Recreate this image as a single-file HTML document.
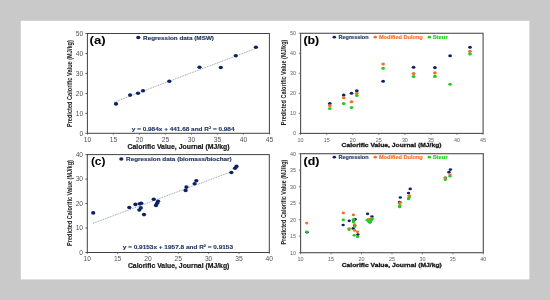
<!DOCTYPE html><html><head><meta charset="utf-8"><style>html,body{margin:0;padding:0;background:#c9c9c9;width:550px;height:300px;overflow:hidden}svg{display:block;will-change:transform}</style></head><body>
<svg width="550" height="300" viewBox="0 0 550 300" font-family='"Liberation Sans", sans-serif'>
<rect x="0" y="0" width="550" height="300" fill="#c9c9c9"/>
<defs><filter id="bl" x="-5%" y="-5%" width="110%" height="110%"><feGaussianBlur stdDeviation="0.35"/></filter></defs><g filter="url(#bl)">
<rect x="20.8" y="20.8" width="508.6" height="258.6" fill="#ffffff"/>
<rect x="87.40" y="33.50" width="182.00" height="99.80" fill="none" stroke="#404040" stroke-width="1"/>
<line x1="85.40" y1="133.30" x2="87.40" y2="133.30" stroke="#404040" stroke-width="0.8"/>
<text x="83.20" y="135.71" font-size="6.7" fill="#555555" font-weight="normal" text-anchor="end" >0</text>
<line x1="85.40" y1="113.34" x2="87.40" y2="113.34" stroke="#404040" stroke-width="0.8"/>
<text x="83.20" y="115.75" font-size="6.7" fill="#555555" font-weight="normal" text-anchor="end" >10</text>
<line x1="85.40" y1="93.38" x2="87.40" y2="93.38" stroke="#404040" stroke-width="0.8"/>
<text x="83.20" y="95.79" font-size="6.7" fill="#555555" font-weight="normal" text-anchor="end" >20</text>
<line x1="85.40" y1="73.42" x2="87.40" y2="73.42" stroke="#404040" stroke-width="0.8"/>
<text x="83.20" y="75.83" font-size="6.7" fill="#555555" font-weight="normal" text-anchor="end" >30</text>
<line x1="85.40" y1="53.46" x2="87.40" y2="53.46" stroke="#404040" stroke-width="0.8"/>
<text x="83.20" y="55.87" font-size="6.7" fill="#555555" font-weight="normal" text-anchor="end" >40</text>
<line x1="85.40" y1="33.50" x2="87.40" y2="33.50" stroke="#404040" stroke-width="0.8"/>
<text x="83.20" y="35.91" font-size="6.7" fill="#555555" font-weight="normal" text-anchor="end" >50</text>
<line x1="87.40" y1="133.30" x2="87.40" y2="134.60" stroke="#404040" stroke-width="0.8"/>
<text x="87.40" y="142.11" font-size="6.7" fill="#555555" font-weight="normal" text-anchor="middle" >10</text>
<line x1="113.40" y1="133.30" x2="113.40" y2="134.60" stroke="#404040" stroke-width="0.8"/>
<text x="113.40" y="142.11" font-size="6.7" fill="#555555" font-weight="normal" text-anchor="middle" >15</text>
<line x1="139.40" y1="133.30" x2="139.40" y2="134.60" stroke="#404040" stroke-width="0.8"/>
<text x="139.40" y="142.11" font-size="6.7" fill="#555555" font-weight="normal" text-anchor="middle" >20</text>
<line x1="165.40" y1="133.30" x2="165.40" y2="134.60" stroke="#404040" stroke-width="0.8"/>
<text x="165.40" y="142.11" font-size="6.7" fill="#555555" font-weight="normal" text-anchor="middle" >25</text>
<line x1="191.40" y1="133.30" x2="191.40" y2="134.60" stroke="#404040" stroke-width="0.8"/>
<text x="191.40" y="142.11" font-size="6.7" fill="#555555" font-weight="normal" text-anchor="middle" >30</text>
<line x1="217.40" y1="133.30" x2="217.40" y2="134.60" stroke="#404040" stroke-width="0.8"/>
<text x="217.40" y="142.11" font-size="6.7" fill="#555555" font-weight="normal" text-anchor="middle" >35</text>
<line x1="243.40" y1="133.30" x2="243.40" y2="134.60" stroke="#404040" stroke-width="0.8"/>
<text x="243.40" y="142.11" font-size="6.7" fill="#555555" font-weight="normal" text-anchor="middle" >40</text>
<line x1="269.40" y1="133.30" x2="269.40" y2="134.60" stroke="#404040" stroke-width="0.8"/>
<text x="269.40" y="142.11" font-size="6.7" fill="#555555" font-weight="normal" text-anchor="middle" >45</text>
<text x="89.60" y="44.20" font-size="11" fill="#000" font-weight="bold" text-anchor="start" textLength="16.1" lengthAdjust="spacingAndGlyphs" >(a)</text>
<ellipse cx="138.30" cy="37.60" rx="2.1" ry="1.75" fill="#0c2466"/>
<text x="143.10" y="39.66" font-size="6.0" fill="#1f3564" font-weight="bold" text-anchor="start" textLength="70.9" lengthAdjust="spacingAndGlyphs" stroke="#1f3564" stroke-width="0.15">Regression data (MSW)</text>
<text x="131.80" y="130.89" font-size="5.8" fill="#1f3564" font-weight="bold" text-anchor="start" textLength="102.69999999999999" lengthAdjust="spacingAndGlyphs" stroke="#1f3564" stroke-width="0.12">y = 0.984x + 441.68 and R² = 0.984</text>
<line x1="114.3" y1="102.0" x2="254.4" y2="49.0" stroke="#6a7590" stroke-width="0.7" stroke-dasharray="1 0.8"/>
<ellipse cx="116.00" cy="103.90" rx="2.15" ry="1.8" fill="#0c2466"/>
<ellipse cx="130.10" cy="95.10" rx="2.15" ry="1.8" fill="#0c2466"/>
<ellipse cx="138.00" cy="93.20" rx="2.15" ry="1.8" fill="#0c2466"/>
<ellipse cx="143.00" cy="90.80" rx="2.15" ry="1.8" fill="#0c2466"/>
<ellipse cx="169.30" cy="81.30" rx="2.15" ry="1.8" fill="#0c2466"/>
<ellipse cx="199.50" cy="67.20" rx="2.15" ry="1.8" fill="#0c2466"/>
<ellipse cx="220.80" cy="67.50" rx="2.15" ry="1.8" fill="#0c2466"/>
<ellipse cx="235.80" cy="55.80" rx="2.15" ry="1.8" fill="#0c2466"/>
<ellipse cx="255.90" cy="47.20" rx="2.15" ry="1.8" fill="#0c2466"/>
<text transform="translate(69.70,83.60) rotate(-90)" x="0" y="2.63" font-size="7.3" fill="#1a1a1a" font-weight="bold" text-anchor="middle" textLength="87" lengthAdjust="spacingAndGlyphs" >Predicted Calorific Value (MJ/kg)</text>
<text x="178.50" y="148.68" font-size="6.6" fill="#1a1a1a" font-weight="bold" text-anchor="middle" textLength="102" lengthAdjust="spacingAndGlyphs" stroke="#1a1a1a" stroke-width="0.2">Calorific Value, Journal (MJ/kg)</text>
<rect x="300.60" y="33.30" width="182.50" height="100.10" fill="none" stroke="#555555" stroke-width="1.15"/>
<line x1="298.80" y1="133.40" x2="300.60" y2="133.40" stroke="#555555" stroke-width="0.7"/>
<text x="296.10" y="135.34" font-size="5.4" fill="#5e5e5e" font-weight="normal" text-anchor="end" >0</text>
<line x1="298.80" y1="113.38" x2="300.60" y2="113.38" stroke="#555555" stroke-width="0.7"/>
<text x="296.10" y="115.32" font-size="5.4" fill="#5e5e5e" font-weight="normal" text-anchor="end" >10</text>
<line x1="298.80" y1="93.36" x2="300.60" y2="93.36" stroke="#555555" stroke-width="0.7"/>
<text x="296.10" y="95.30" font-size="5.4" fill="#5e5e5e" font-weight="normal" text-anchor="end" >20</text>
<line x1="298.80" y1="73.34" x2="300.60" y2="73.34" stroke="#555555" stroke-width="0.7"/>
<text x="296.10" y="75.28" font-size="5.4" fill="#5e5e5e" font-weight="normal" text-anchor="end" >30</text>
<line x1="298.80" y1="53.32" x2="300.60" y2="53.32" stroke="#555555" stroke-width="0.7"/>
<text x="296.10" y="55.26" font-size="5.4" fill="#5e5e5e" font-weight="normal" text-anchor="end" >40</text>
<line x1="298.80" y1="33.30" x2="300.60" y2="33.30" stroke="#555555" stroke-width="0.7"/>
<text x="296.10" y="35.24" font-size="5.4" fill="#5e5e5e" font-weight="normal" text-anchor="end" >50</text>
<line x1="300.60" y1="133.40" x2="300.60" y2="135.00" stroke="#555555" stroke-width="0.7"/>
<text x="300.60" y="141.74" font-size="5.4" fill="#5e5e5e" font-weight="normal" text-anchor="middle" >10</text>
<line x1="326.67" y1="133.40" x2="326.67" y2="135.00" stroke="#555555" stroke-width="0.7"/>
<text x="326.67" y="141.74" font-size="5.4" fill="#5e5e5e" font-weight="normal" text-anchor="middle" >15</text>
<line x1="352.74" y1="133.40" x2="352.74" y2="135.00" stroke="#555555" stroke-width="0.7"/>
<text x="352.74" y="141.74" font-size="5.4" fill="#5e5e5e" font-weight="normal" text-anchor="middle" >20</text>
<line x1="378.81" y1="133.40" x2="378.81" y2="135.00" stroke="#555555" stroke-width="0.7"/>
<text x="378.81" y="141.74" font-size="5.4" fill="#5e5e5e" font-weight="normal" text-anchor="middle" >25</text>
<line x1="404.89" y1="133.40" x2="404.89" y2="135.00" stroke="#555555" stroke-width="0.7"/>
<text x="404.89" y="141.74" font-size="5.4" fill="#5e5e5e" font-weight="normal" text-anchor="middle" >30</text>
<line x1="430.96" y1="133.40" x2="430.96" y2="135.00" stroke="#555555" stroke-width="0.7"/>
<text x="430.96" y="141.74" font-size="5.4" fill="#5e5e5e" font-weight="normal" text-anchor="middle" >35</text>
<line x1="457.03" y1="133.40" x2="457.03" y2="135.00" stroke="#555555" stroke-width="0.7"/>
<text x="457.03" y="141.74" font-size="5.4" fill="#5e5e5e" font-weight="normal" text-anchor="middle" >40</text>
<line x1="483.10" y1="133.40" x2="483.10" y2="135.00" stroke="#555555" stroke-width="0.7"/>
<text x="483.10" y="141.74" font-size="5.4" fill="#5e5e5e" font-weight="normal" text-anchor="middle" >45</text>
<text x="303.40" y="43.80" font-size="11.6" fill="#000" font-weight="bold" text-anchor="start" textLength="15.8" lengthAdjust="spacingAndGlyphs" stroke="#000" stroke-width="0.1">(b)</text>
<ellipse cx="334.30" cy="37.20" rx="1.75" ry="1.4" fill="#0c2466"/>
<text x="338.50" y="39.32" font-size="5.6" fill="#1f3a6e" font-weight="bold" text-anchor="start" textLength="30.100000000000023" lengthAdjust="spacingAndGlyphs" stroke="#1f3a6e" stroke-width="0.15">Regression</text>
<ellipse cx="375.20" cy="37.20" rx="1.75" ry="1.4" fill="#f2702a"/>
<text x="378.90" y="39.32" font-size="5.6" fill="#f2702a" font-weight="bold" text-anchor="start" textLength="43.900000000000034" lengthAdjust="spacingAndGlyphs" stroke="#f2702a" stroke-width="0.15">Modified Dulong</text>
<ellipse cx="429.30" cy="37.20" rx="1.75" ry="1.4" fill="#22cc22"/>
<text x="432.70" y="39.32" font-size="5.6" fill="#22cc22" font-weight="bold" text-anchor="start" textLength="15.0" lengthAdjust="spacingAndGlyphs" stroke="#22cc22" stroke-width="0.15">Steur</text>
<ellipse cx="329.80" cy="103.60" rx="1.85" ry="1.55" fill="#0c2466"/>
<ellipse cx="343.70" cy="95.00" rx="1.85" ry="1.55" fill="#0c2466"/>
<ellipse cx="351.50" cy="93.20" rx="1.85" ry="1.55" fill="#0c2466"/>
<ellipse cx="356.80" cy="90.80" rx="1.85" ry="1.55" fill="#0c2466"/>
<ellipse cx="383.10" cy="81.30" rx="1.85" ry="1.55" fill="#0c2466"/>
<ellipse cx="413.60" cy="67.30" rx="1.85" ry="1.55" fill="#0c2466"/>
<ellipse cx="434.90" cy="67.60" rx="1.85" ry="1.55" fill="#0c2466"/>
<ellipse cx="450.10" cy="55.80" rx="1.85" ry="1.55" fill="#0c2466"/>
<ellipse cx="470.00" cy="47.30" rx="1.85" ry="1.55" fill="#0c2466"/>
<ellipse cx="329.80" cy="105.50" rx="1.85" ry="1.55" fill="#f2702a"/>
<ellipse cx="343.70" cy="97.70" rx="1.85" ry="1.55" fill="#f2702a"/>
<ellipse cx="351.50" cy="101.80" rx="1.85" ry="1.55" fill="#f2702a"/>
<ellipse cx="356.80" cy="93.20" rx="1.85" ry="1.55" fill="#f2702a"/>
<ellipse cx="383.10" cy="64.00" rx="1.85" ry="1.55" fill="#f2702a"/>
<ellipse cx="413.60" cy="73.60" rx="1.85" ry="1.55" fill="#f2702a"/>
<ellipse cx="434.90" cy="72.90" rx="1.85" ry="1.55" fill="#f2702a"/>
<ellipse cx="470.00" cy="51.30" rx="1.85" ry="1.55" fill="#f2702a"/>
<ellipse cx="329.80" cy="108.50" rx="1.85" ry="1.55" fill="#22cc22"/>
<ellipse cx="343.70" cy="103.60" rx="1.85" ry="1.55" fill="#22cc22"/>
<ellipse cx="351.50" cy="107.50" rx="1.85" ry="1.55" fill="#22cc22"/>
<ellipse cx="356.80" cy="95.50" rx="1.85" ry="1.55" fill="#22cc22"/>
<ellipse cx="383.10" cy="68.20" rx="1.85" ry="1.55" fill="#22cc22"/>
<ellipse cx="413.60" cy="76.50" rx="1.85" ry="1.55" fill="#22cc22"/>
<ellipse cx="434.90" cy="76.40" rx="1.85" ry="1.55" fill="#22cc22"/>
<ellipse cx="450.10" cy="84.20" rx="1.85" ry="1.55" fill="#22cc22"/>
<ellipse cx="470.00" cy="53.90" rx="1.85" ry="1.55" fill="#22cc22"/>
<text transform="translate(283.80,82.40) rotate(-90)" x="0" y="2.59" font-size="7.2" fill="#1a1a1a" font-weight="bold" text-anchor="middle" textLength="85.6" lengthAdjust="spacingAndGlyphs" >Predicted Calorific Value (MJ/kg)</text>
<text x="391.60" y="147.26" font-size="6.0" fill="#1a1a1a" font-weight="bold" text-anchor="middle" textLength="100" lengthAdjust="spacingAndGlyphs" stroke="#1a1a1a" stroke-width="0.3">Calorific Value, Journal (MJ/kg)</text>
<rect x="87.30" y="154.60" width="182.00" height="97.90" fill="none" stroke="#404040" stroke-width="1"/>
<line x1="85.30" y1="252.50" x2="87.30" y2="252.50" stroke="#404040" stroke-width="0.8"/>
<text x="83.10" y="254.91" font-size="6.7" fill="#555555" font-weight="normal" text-anchor="end" >0</text>
<line x1="85.30" y1="228.03" x2="87.30" y2="228.03" stroke="#404040" stroke-width="0.8"/>
<text x="83.10" y="230.44" font-size="6.7" fill="#555555" font-weight="normal" text-anchor="end" >10</text>
<line x1="85.30" y1="203.55" x2="87.30" y2="203.55" stroke="#404040" stroke-width="0.8"/>
<text x="83.10" y="205.96" font-size="6.7" fill="#555555" font-weight="normal" text-anchor="end" >20</text>
<line x1="85.30" y1="179.07" x2="87.30" y2="179.07" stroke="#404040" stroke-width="0.8"/>
<text x="83.10" y="181.49" font-size="6.7" fill="#555555" font-weight="normal" text-anchor="end" >30</text>
<line x1="85.30" y1="154.60" x2="87.30" y2="154.60" stroke="#404040" stroke-width="0.8"/>
<text x="83.10" y="157.01" font-size="6.7" fill="#555555" font-weight="normal" text-anchor="end" >40</text>
<line x1="87.30" y1="252.50" x2="87.30" y2="253.80" stroke="#404040" stroke-width="0.8"/>
<text x="87.30" y="261.31" font-size="6.7" fill="#555555" font-weight="normal" text-anchor="middle" >10</text>
<line x1="117.63" y1="252.50" x2="117.63" y2="253.80" stroke="#404040" stroke-width="0.8"/>
<text x="117.63" y="261.31" font-size="6.7" fill="#555555" font-weight="normal" text-anchor="middle" >15</text>
<line x1="147.97" y1="252.50" x2="147.97" y2="253.80" stroke="#404040" stroke-width="0.8"/>
<text x="147.97" y="261.31" font-size="6.7" fill="#555555" font-weight="normal" text-anchor="middle" >20</text>
<line x1="178.30" y1="252.50" x2="178.30" y2="253.80" stroke="#404040" stroke-width="0.8"/>
<text x="178.30" y="261.31" font-size="6.7" fill="#555555" font-weight="normal" text-anchor="middle" >25</text>
<line x1="208.63" y1="252.50" x2="208.63" y2="253.80" stroke="#404040" stroke-width="0.8"/>
<text x="208.63" y="261.31" font-size="6.7" fill="#555555" font-weight="normal" text-anchor="middle" >30</text>
<line x1="238.97" y1="252.50" x2="238.97" y2="253.80" stroke="#404040" stroke-width="0.8"/>
<text x="238.97" y="261.31" font-size="6.7" fill="#555555" font-weight="normal" text-anchor="middle" >35</text>
<line x1="269.30" y1="252.50" x2="269.30" y2="253.80" stroke="#404040" stroke-width="0.8"/>
<text x="269.30" y="261.31" font-size="6.7" fill="#555555" font-weight="normal" text-anchor="middle" >40</text>
<text x="90.90" y="165.00" font-size="11" fill="#000" font-weight="bold" text-anchor="start" textLength="14.6" lengthAdjust="spacingAndGlyphs" >(c)</text>
<ellipse cx="121.30" cy="159.00" rx="2.1" ry="1.75" fill="#0c2466"/>
<text x="126.10" y="161.06" font-size="6.0" fill="#1f3564" font-weight="bold" text-anchor="start" textLength="105.6" lengthAdjust="spacingAndGlyphs" stroke="#1f3564" stroke-width="0.15">Regression data (biomass/biochar)</text>
<text x="122.80" y="249.49" font-size="5.8" fill="#1f3564" font-weight="bold" text-anchor="start" textLength="110.2" lengthAdjust="spacingAndGlyphs" stroke="#1f3564" stroke-width="0.12">y = 0.9153x + 1957.8 and R² = 0.9153</text>
<line x1="93.0" y1="223.3" x2="231.4" y2="171.7" stroke="#6a7590" stroke-width="0.7" stroke-dasharray="1 0.8"/>
<ellipse cx="93.20" cy="212.90" rx="2.15" ry="1.8" fill="#0c2466"/>
<ellipse cx="129.30" cy="207.50" rx="2.15" ry="1.8" fill="#0c2466"/>
<ellipse cx="135.40" cy="204.40" rx="2.15" ry="1.8" fill="#0c2466"/>
<ellipse cx="139.60" cy="203.75" rx="2.15" ry="1.8" fill="#0c2466"/>
<ellipse cx="141.25" cy="203.30" rx="2.15" ry="1.8" fill="#0c2466"/>
<ellipse cx="140.80" cy="207.90" rx="2.15" ry="1.8" fill="#0c2466"/>
<ellipse cx="139.30" cy="210.00" rx="2.15" ry="1.8" fill="#0c2466"/>
<ellipse cx="144.00" cy="214.60" rx="2.15" ry="1.8" fill="#0c2466"/>
<ellipse cx="153.75" cy="199.20" rx="2.15" ry="1.8" fill="#0c2466"/>
<ellipse cx="158.10" cy="201.25" rx="2.15" ry="1.8" fill="#0c2466"/>
<ellipse cx="157.10" cy="203.30" rx="2.15" ry="1.8" fill="#0c2466"/>
<ellipse cx="156.00" cy="205.40" rx="2.15" ry="1.8" fill="#0c2466"/>
<ellipse cx="186.40" cy="187.10" rx="2.15" ry="1.8" fill="#0c2466"/>
<ellipse cx="185.60" cy="190.40" rx="2.15" ry="1.8" fill="#0c2466"/>
<ellipse cx="196.30" cy="180.70" rx="2.15" ry="1.8" fill="#0c2466"/>
<ellipse cx="194.60" cy="183.70" rx="2.15" ry="1.8" fill="#0c2466"/>
<ellipse cx="231.40" cy="172.50" rx="2.15" ry="1.8" fill="#0c2466"/>
<ellipse cx="235.00" cy="168.30" rx="2.15" ry="1.8" fill="#0c2466"/>
<ellipse cx="236.50" cy="166.40" rx="2.15" ry="1.8" fill="#0c2466"/>
<text transform="translate(69.40,203.00) rotate(-90)" x="0" y="2.63" font-size="7.3" fill="#1a1a1a" font-weight="bold" text-anchor="middle" textLength="85.8" lengthAdjust="spacingAndGlyphs" >Predicted Calorific Value (MJ/kg)</text>
<text x="178.65" y="267.68" font-size="6.6" fill="#1a1a1a" font-weight="bold" text-anchor="middle" textLength="101.5" lengthAdjust="spacingAndGlyphs" stroke="#1a1a1a" stroke-width="0.2">Calorific Value, Journal (MJ/kg)</text>
<rect x="300.60" y="153.70" width="182.70" height="99.00" fill="none" stroke="#555555" stroke-width="1.15"/>
<line x1="298.80" y1="252.70" x2="300.60" y2="252.70" stroke="#555555" stroke-width="0.7"/>
<text x="296.10" y="254.64" font-size="5.4" fill="#5e5e5e" font-weight="normal" text-anchor="end" >10</text>
<line x1="298.80" y1="236.20" x2="300.60" y2="236.20" stroke="#555555" stroke-width="0.7"/>
<text x="296.10" y="238.14" font-size="5.4" fill="#5e5e5e" font-weight="normal" text-anchor="end" >15</text>
<line x1="298.80" y1="219.70" x2="300.60" y2="219.70" stroke="#555555" stroke-width="0.7"/>
<text x="296.10" y="221.64" font-size="5.4" fill="#5e5e5e" font-weight="normal" text-anchor="end" >20</text>
<line x1="298.80" y1="203.20" x2="300.60" y2="203.20" stroke="#555555" stroke-width="0.7"/>
<text x="296.10" y="205.14" font-size="5.4" fill="#5e5e5e" font-weight="normal" text-anchor="end" >25</text>
<line x1="298.80" y1="186.70" x2="300.60" y2="186.70" stroke="#555555" stroke-width="0.7"/>
<text x="296.10" y="188.64" font-size="5.4" fill="#5e5e5e" font-weight="normal" text-anchor="end" >30</text>
<line x1="298.80" y1="170.20" x2="300.60" y2="170.20" stroke="#555555" stroke-width="0.7"/>
<text x="296.10" y="172.14" font-size="5.4" fill="#5e5e5e" font-weight="normal" text-anchor="end" >35</text>
<line x1="298.80" y1="153.70" x2="300.60" y2="153.70" stroke="#555555" stroke-width="0.7"/>
<text x="296.10" y="155.64" font-size="5.4" fill="#5e5e5e" font-weight="normal" text-anchor="end" >40</text>
<line x1="300.60" y1="252.70" x2="300.60" y2="254.30" stroke="#555555" stroke-width="0.7"/>
<text x="300.60" y="261.04" font-size="5.4" fill="#5e5e5e" font-weight="normal" text-anchor="middle" >10</text>
<line x1="331.05" y1="252.70" x2="331.05" y2="254.30" stroke="#555555" stroke-width="0.7"/>
<text x="331.05" y="261.04" font-size="5.4" fill="#5e5e5e" font-weight="normal" text-anchor="middle" >15</text>
<line x1="361.50" y1="252.70" x2="361.50" y2="254.30" stroke="#555555" stroke-width="0.7"/>
<text x="361.50" y="261.04" font-size="5.4" fill="#5e5e5e" font-weight="normal" text-anchor="middle" >20</text>
<line x1="391.95" y1="252.70" x2="391.95" y2="254.30" stroke="#555555" stroke-width="0.7"/>
<text x="391.95" y="261.04" font-size="5.4" fill="#5e5e5e" font-weight="normal" text-anchor="middle" >25</text>
<line x1="422.40" y1="252.70" x2="422.40" y2="254.30" stroke="#555555" stroke-width="0.7"/>
<text x="422.40" y="261.04" font-size="5.4" fill="#5e5e5e" font-weight="normal" text-anchor="middle" >30</text>
<line x1="452.85" y1="252.70" x2="452.85" y2="254.30" stroke="#555555" stroke-width="0.7"/>
<text x="452.85" y="261.04" font-size="5.4" fill="#5e5e5e" font-weight="normal" text-anchor="middle" >35</text>
<line x1="483.30" y1="252.70" x2="483.30" y2="254.30" stroke="#555555" stroke-width="0.7"/>
<text x="483.30" y="261.04" font-size="5.4" fill="#5e5e5e" font-weight="normal" text-anchor="middle" >40</text>
<text x="303.60" y="164.50" font-size="11.6" fill="#000" font-weight="bold" text-anchor="start" textLength="15.8" lengthAdjust="spacingAndGlyphs" stroke="#000" stroke-width="0.1">(d)</text>
<ellipse cx="334.30" cy="157.20" rx="1.75" ry="1.4" fill="#0c2466"/>
<text x="338.50" y="159.32" font-size="5.6" fill="#1f3a6e" font-weight="bold" text-anchor="start" textLength="30.100000000000023" lengthAdjust="spacingAndGlyphs" stroke="#1f3a6e" stroke-width="0.15">Regression</text>
<ellipse cx="375.20" cy="157.20" rx="1.75" ry="1.4" fill="#f2702a"/>
<text x="378.90" y="159.32" font-size="5.6" fill="#f2702a" font-weight="bold" text-anchor="start" textLength="43.900000000000034" lengthAdjust="spacingAndGlyphs" stroke="#f2702a" stroke-width="0.15">Modified Dulong</text>
<ellipse cx="429.30" cy="157.20" rx="1.75" ry="1.4" fill="#22cc22"/>
<text x="432.70" y="159.32" font-size="5.6" fill="#22cc22" font-weight="bold" text-anchor="start" textLength="15.0" lengthAdjust="spacingAndGlyphs" stroke="#22cc22" stroke-width="0.15">Steur</text>
<ellipse cx="307.01" cy="232.31" rx="1.7" ry="1.3" fill="#0c2466"/>
<ellipse cx="343.14" cy="225.03" rx="1.7" ry="1.3" fill="#0c2466"/>
<ellipse cx="349.25" cy="220.85" rx="1.7" ry="1.3" fill="#0c2466"/>
<ellipse cx="353.45" cy="219.97" rx="1.7" ry="1.3" fill="#0c2466"/>
<ellipse cx="355.11" cy="219.36" rx="1.7" ry="1.3" fill="#0c2466"/>
<ellipse cx="354.66" cy="225.57" rx="1.7" ry="1.3" fill="#0c2466"/>
<ellipse cx="353.15" cy="228.40" rx="1.7" ry="1.3" fill="#0c2466"/>
<ellipse cx="357.86" cy="234.60" rx="1.7" ry="1.3" fill="#0c2466"/>
<ellipse cx="367.62" cy="213.83" rx="1.7" ry="1.3" fill="#0c2466"/>
<ellipse cx="371.97" cy="216.60" rx="1.7" ry="1.3" fill="#0c2466"/>
<ellipse cx="370.97" cy="219.36" rx="1.7" ry="1.3" fill="#0c2466"/>
<ellipse cx="369.87" cy="222.19" rx="1.7" ry="1.3" fill="#0c2466"/>
<ellipse cx="400.30" cy="197.52" rx="1.7" ry="1.3" fill="#0c2466"/>
<ellipse cx="399.50" cy="201.97" rx="1.7" ry="1.3" fill="#0c2466"/>
<ellipse cx="410.21" cy="188.89" rx="1.7" ry="1.3" fill="#0c2466"/>
<ellipse cx="408.51" cy="192.94" rx="1.7" ry="1.3" fill="#0c2466"/>
<ellipse cx="445.35" cy="177.83" rx="1.7" ry="1.3" fill="#0c2466"/>
<ellipse cx="448.95" cy="172.17" rx="1.7" ry="1.3" fill="#0c2466"/>
<ellipse cx="450.45" cy="169.61" rx="1.7" ry="1.3" fill="#0c2466"/>
<ellipse cx="306.70" cy="223.10" rx="1.7" ry="1.3" fill="#f2702a"/>
<ellipse cx="343.30" cy="212.90" rx="1.7" ry="1.3" fill="#f2702a"/>
<ellipse cx="353.40" cy="214.90" rx="1.7" ry="1.3" fill="#f2702a"/>
<ellipse cx="354.60" cy="224.60" rx="1.7" ry="1.3" fill="#f2702a"/>
<ellipse cx="349.10" cy="228.60" rx="1.7" ry="1.3" fill="#f2702a"/>
<ellipse cx="354.60" cy="230.40" rx="1.7" ry="1.3" fill="#f2702a"/>
<ellipse cx="357.50" cy="231.80" rx="1.7" ry="1.3" fill="#f2702a"/>
<ellipse cx="372.00" cy="218.20" rx="1.7" ry="1.3" fill="#f2702a"/>
<ellipse cx="368.30" cy="219.30" rx="1.7" ry="1.3" fill="#f2702a"/>
<ellipse cx="399.50" cy="203.50" rx="1.7" ry="1.3" fill="#f2702a"/>
<ellipse cx="409.00" cy="195.50" rx="1.7" ry="1.3" fill="#f2702a"/>
<ellipse cx="445.30" cy="178.00" rx="1.7" ry="1.3" fill="#f2702a"/>
<ellipse cx="450.00" cy="174.80" rx="1.7" ry="1.3" fill="#f2702a"/>
<ellipse cx="400.50" cy="202.50" rx="1.7" ry="1.3" fill="#f2702a"/>
<ellipse cx="409.50" cy="196.00" rx="1.7" ry="1.3" fill="#f2702a"/>
<ellipse cx="306.80" cy="231.70" rx="1.7" ry="1.3" fill="#22cc22"/>
<ellipse cx="343.30" cy="219.90" rx="1.7" ry="1.3" fill="#22cc22"/>
<ellipse cx="353.40" cy="219.60" rx="1.7" ry="1.3" fill="#22cc22"/>
<ellipse cx="353.40" cy="221.90" rx="1.7" ry="1.3" fill="#22cc22"/>
<ellipse cx="354.60" cy="226.60" rx="1.7" ry="1.3" fill="#22cc22"/>
<ellipse cx="349.10" cy="229.80" rx="1.7" ry="1.3" fill="#22cc22"/>
<ellipse cx="354.20" cy="235.30" rx="1.7" ry="1.3" fill="#22cc22"/>
<ellipse cx="357.50" cy="236.70" rx="1.7" ry="1.3" fill="#22cc22"/>
<ellipse cx="367.30" cy="220.20" rx="1.7" ry="1.3" fill="#22cc22"/>
<ellipse cx="368.90" cy="221.80" rx="1.7" ry="1.3" fill="#22cc22"/>
<ellipse cx="370.10" cy="222.30" rx="1.7" ry="1.3" fill="#22cc22"/>
<ellipse cx="371.10" cy="220.40" rx="1.7" ry="1.3" fill="#22cc22"/>
<ellipse cx="372.10" cy="218.90" rx="1.7" ry="1.3" fill="#22cc22"/>
<ellipse cx="399.80" cy="205.50" rx="1.7" ry="1.3" fill="#22cc22"/>
<ellipse cx="399.60" cy="207.00" rx="1.7" ry="1.3" fill="#22cc22"/>
<ellipse cx="409.00" cy="197.50" rx="1.7" ry="1.3" fill="#22cc22"/>
<ellipse cx="408.50" cy="199.00" rx="1.7" ry="1.3" fill="#22cc22"/>
<ellipse cx="445.30" cy="179.80" rx="1.7" ry="1.3" fill="#22cc22"/>
<ellipse cx="450.00" cy="176.20" rx="1.7" ry="1.3" fill="#22cc22"/>
<text transform="translate(283.80,202.10) rotate(-90)" x="0" y="2.59" font-size="7.2" fill="#1a1a1a" font-weight="bold" text-anchor="middle" textLength="85" lengthAdjust="spacingAndGlyphs" >Predicted Calorific Value (MJ/kg)</text>
<text x="391.75" y="267.16" font-size="6.0" fill="#1a1a1a" font-weight="bold" text-anchor="middle" textLength="100" lengthAdjust="spacingAndGlyphs" stroke="#1a1a1a" stroke-width="0.3">Calorific Value, Journal (MJ/kg)</text>
</g></svg></body></html>
